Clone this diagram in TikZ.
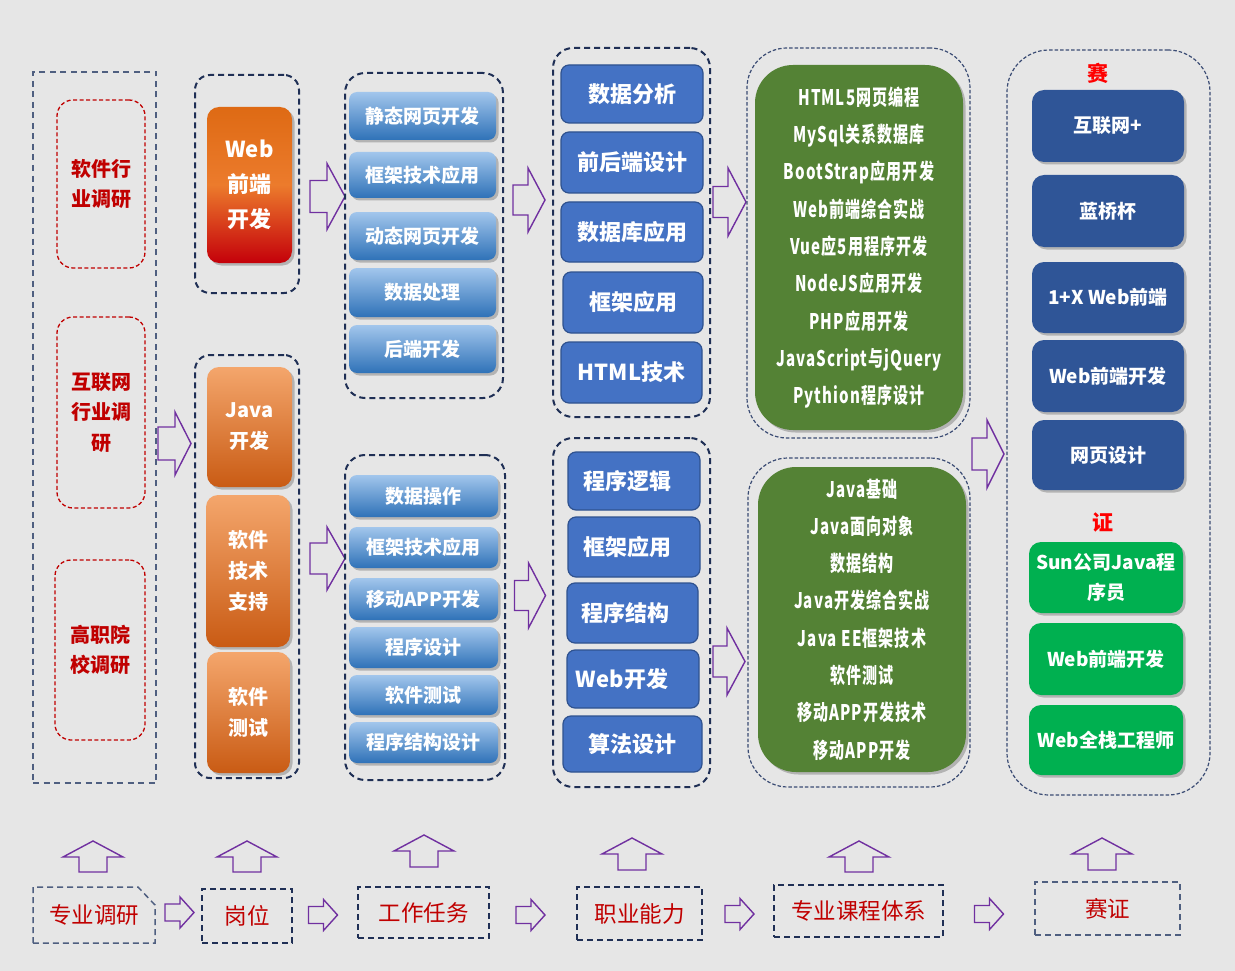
\documentclass[tikz,border=0pt]{standalone}
\usepackage{fontspec}
\setmainfont{Noto Sans CJK SC}
\newfontfamily\condfont[FakeStretch=0.7,LetterSpace=5]{Noto Sans CJK SC}
\usetikzlibrary{shadows,calc}
\definecolor{bgc}{HTML}{E6E6E6}
\definecolor{slate}{HTML}{4F5F80}
\definecolor{slate2}{HTML}{3B4C74}
\definecolor{navy}{HTML}{1F2F55}
\definecolor{redd}{HTML}{C00000}
\definecolor{brightred}{HTML}{FF0000}
\definecolor{apurple}{HTML}{7030A0}
\definecolor{webtop}{HTML}{DE6A14}
\definecolor{webmid}{HTML}{EC7B2C}
\definecolor{webbot}{HTML}{C4000A}
\definecolor{javatop}{HTML}{F4A66C}
\definecolor{javabot}{HTML}{C95B14}
\definecolor{lbtop}{HTML}{A2C6EC}
\definecolor{lbbot}{HTML}{2F72B8}
\definecolor{abil}{HTML}{4472C4}
\definecolor{abilb}{HTML}{2F528F}
\definecolor{course}{HTML}{548235}
\definecolor{comp}{HTML}{2F5597}
\definecolor{cert}{HTML}{00B050}
\begin{document}
\begin{tikzpicture}[x=1pt,y=-1pt,
  every node/.style={inner sep=0pt,outer sep=0pt},
  shad/.style={drop shadow={shadow xshift=2.5pt,shadow yshift=-2.5pt,fill=black,opacity=0.22}},
  lcolbox/.style={draw=slate,line width=1.3pt,dash pattern=on 6pt off 4.5pt},
  redbox/.style={draw=redd,line width=1.3pt,dash pattern=on 4pt off 2.5pt,rounded corners=16pt,
    text=redd,font=\fontsize{20}{30.5}\selectfont\bfseries,align=center},
  navydash/.style={draw=navy,line width=2pt,dash pattern=on 6pt off 4pt,rounded corners=#1},
  navydash/.default=18pt,
  thindash/.style={draw=slate2,line width=1.2pt,dash pattern=on 3.5pt off 2pt,rounded corners=#1},
  thindash/.default=40pt,
  webbox/.style={rounded corners=12pt,top color=webtop,bottom color=webbot,middle color=webmid,
    text=white,font=\fontsize{22}{35}\selectfont\bfseries,align=center,shad},
  javabox/.style={rounded corners=12pt,top color=javatop,bottom color=javabot,
    text=white,font=\fontsize{20}{31}\selectfont\bfseries,align=center,shad},
  taskbox/.style={rounded corners=8pt,top color=lbtop,bottom color=lbbot,
    text=white,font=\fontsize{19}{22}\selectfont\bfseries,shad},
  abilbox/.style={rounded corners=8pt,fill=abil,draw=abilb,line width=1.2pt,
    text=white,font=\fontsize{22}{26}\selectfont\bfseries},
  coursebox/.style={rounded corners=38pt,fill=course,text=white,align=center,
    font=\condfont\fontsize{21.5}{37.3}\selectfont\bfseries,shad},
  compbox/.style={rounded corners=12pt,fill=comp,text=white,align=center,
    font=\fontsize{19}{30}\selectfont\bfseries,shad},
  certbox/.style={rounded corners=12pt,fill=cert,text=white,align=center,
    font=\fontsize{19}{30}\selectfont\bfseries,shad},
  arrowline/.style={draw=apurple,line width=1.4pt,line join=miter},
  pics/rarr/.style args={#1/#2/#3/#4}{code={
    \draw[arrowline] ({-#1/2},{-#3/2}) -- ({#1/2-#4},{-#3/2}) -- ({#1/2-#4},{-#2/2})
      -- ({#1/2},0) -- ({#1/2-#4},{#2/2}) -- ({#1/2-#4},{#3/2}) -- ({-#1/2},{#3/2}) -- cycle;}},
  pics/uarr/.style args={#1/#2/#3/#4}{code={
    \draw[arrowline] ({-#3/2},{#1/2}) -- ({-#3/2},{-#1/2+#4}) -- ({-#2/2},{-#1/2+#4})
      -- (0,{-#1/2}) -- ({#2/2},{-#1/2+#4}) -- ({#3/2},{-#1/2+#4}) -- ({#3/2},{#1/2}) -- cycle;}},
  labeltext/.style={text=redd,font=\fontsize{22.5}{26}\selectfont},
  bottomnavy/.style={draw=navy,line width=2pt,dash pattern=on 6pt off 4pt},
  bottomslate/.style={draw=slate,line width=1.5pt,dash pattern=on 6pt off 4pt}
]
\fill[bgc] (0,0) rectangle (1235,971);
\useasboundingbox (0,0) rectangle (1235,971);

% ---------- column 1: surveys
\node[lcolbox,minimum width=123pt,minimum height=711pt] (survey) at (94.5,427.5) {};
\node[redbox,minimum width=88pt,minimum height=168pt] (s1) at (101,184) {软件行\\业调研};
\node[redbox,minimum width=88pt,minimum height=191pt] (s2) at (101,412.5) {互联网\\行业调\\研};
\node[redbox,minimum width=90pt,minimum height=180pt] (s3) at (100,650) {高职院\\校调研};

\pic (a1) at (174.5,443.5) {rarr=33/63/33/16};

% ---------- column 2: posts
\node[navydash=15pt,minimum width=104pt,minimum height=218pt] (g1) at (247,184) {};
\node[webbox,minimum width=85pt,minimum height=156pt] (web) at (249.5,185) {Web\\前端\\开发};
\node[navydash=15pt,minimum width=104pt,minimum height=423pt] (g2) at (247,566.5) {};
\node[javabox,minimum width=85pt,minimum height=120pt] (java) at (249.5,427) {Java\\开发};
\node[javabox,minimum width=84pt,minimum height=152pt] (tech) at (248,571) {软件\\技术\\支持};
\node[javabox,minimum width=83pt,minimum height=121pt] (test) at (248.5,712.5) {软件\\测试};

\pic (a2t) at (327.5,196.5) {rarr=35/66/32/18};
\pic (a2b) at (327.5,558.5) {rarr=35/63/31/18};

% ---------- column 3: tasks
\node[navydash=20pt,minimum width=158pt,minimum height=325pt] (t1) at (424,235.5) {};
\node[taskbox,minimum width=147pt,minimum height=48pt] (t11) at (422.5,116) {静态网页开发};
\node[taskbox,minimum width=147pt,minimum height=46pt] (t12) at (422.5,175) {框架技术应用};
\node[taskbox,minimum width=147pt,minimum height=48pt] (t13) at (422.5,236) {动态网页开发};
\node[taskbox,minimum width=147pt,minimum height=49pt] (t14) at (422.5,292.5) {数据处理};
\node[taskbox,minimum width=147pt,minimum height=48pt] (t15) at (422.5,349) {后端开发};

\node[navydash=20pt,minimum width=160pt,minimum height=325pt] (t2) at (425,617.5) {};
\node[taskbox,minimum width=149pt,minimum height=42pt] (t21) at (423.5,496) {数据操作};
\node[taskbox,minimum width=149pt,minimum height=41pt] (t22) at (423.5,547.5) {框架技术应用};
\node[taskbox,minimum width=149pt,minimum height=42pt] (t23) at (423.5,599) {移动APP开发};
\node[taskbox,minimum width=149pt,minimum height=41pt] (t24) at (423.5,647.5) {程序设计};
\node[taskbox,minimum width=149pt,minimum height=40pt] (t25) at (423.5,695) {软件测试};
\node[taskbox,minimum width=149pt,minimum height=41pt] (t26) at (423.5,742.5) {程序结构设计};

\pic (a3t) at (529,200) {rarr=32/64/30/17};
\pic (a3b) at (530,595.5) {rarr=31/65/30/17};

% ---------- column 4: abilities
\node[navydash=20pt,minimum width=157pt,minimum height=369pt] (n1) at (631.5,232.5) {};
\node[abilbox,minimum width=142pt,minimum height=58pt] (n11) at (632,94) {数据分析};
\node[abilbox,minimum width=142pt,minimum height=61pt] (n12) at (632,162.5) {前后端设计};
\node[abilbox,minimum width=142pt,minimum height=60pt] (n13) at (632,232) {数据库应用};
\node[abilbox,minimum width=140pt,minimum height=61pt] (n14) at (633,302.5) {框架应用};
\node[abilbox,minimum width=141pt,minimum height=61pt] (n15) at (631.5,372.5) {HTML技术};

\node[navydash=20pt,minimum width=157pt,minimum height=349pt] (n2) at (631.5,612.5) {};
\node[abilbox,minimum width=132pt,minimum height=58pt] (n21) at (634,481) {\hspace*{-14pt}程序逻辑};
\node[abilbox,minimum width=132pt,minimum height=60pt] (n22) at (634,547) {\hspace*{-14pt}框架应用};
\node[abilbox,minimum width=131pt,minimum height=60pt] (n23) at (632.5,613) {\hspace*{-14pt}程序结构};
\node[abilbox,minimum width=132pt,minimum height=58pt] (n24) at (633,679) {\hspace*{-22pt}Web开发};
\node[abilbox,minimum width=139pt,minimum height=56pt] (n25) at (632.5,744) {算法设计};

\pic (a4t) at (729.5,202) {rarr=33/68/31/18};
\pic (a4b) at (729,661.5) {rarr=32/67/31/18};

% ---------- column 5: courses
\node[thindash=40pt,minimum width=223pt,minimum height=390pt] (c1) at (858.5,243) {};
\node[coursebox,minimum width=208pt,minimum height=365pt] (c11) at (859,247.5)
  {HTML5网页编程\\MySql关系数据库\\BootStrap应用开发\\Web前端综合实战\\Vue应5用程序开发\\NodeJS应用开发\\PHP应用开发\\JavaScript与jQuery\\Pythion程序设计};
\node[thindash=40pt,minimum width=222pt,minimum height=329pt] (c2) at (859,622.5) {};
\node[coursebox,minimum width=208pt,minimum height=305pt] (c21) at (862,619.5)
  {Java基础\\Java面向对象\\数据结构\\Java开发综合实战\\Java EE框架技术\\软件测试\\移动APP开发技术\\移动APP开发};

\pic (a5) at (988,454) {rarr=32/68/32/17};

% ---------- column 6: competitions & certificates
\node[thindash=42pt,minimum width=203pt,minimum height=745pt] (cc) at (1108.5,422.5) {};
\node[text=brightred,font=\fontsize{21}{24}\selectfont\bfseries] (sai) at (1098,73) {赛};
\node[compbox,minimum width=152pt,minimum height=72pt] (m1) at (1108,126) {互联网+};
\node[compbox,minimum width=152pt,minimum height=72pt] (m2) at (1108,211) {蓝桥杯};
\node[compbox,minimum width=152pt,minimum height=71pt] (m3) at (1108,297.5) {1+X Web前端};
\node[compbox,minimum width=152pt,minimum height=72pt] (m4) at (1108,376) {Web前端开发};
\node[compbox,minimum width=152pt,minimum height=70pt] (m5) at (1108,455) {网页设计};
\node[text=brightred,font=\fontsize{21}{24}\selectfont\bfseries] (zheng) at (1103,522) {证};
\node[certbox,minimum width=154pt,minimum height=71pt] (z1) at (1106,577.5) {Sun公司Java程\\序员};
\node[certbox,minimum width=154pt,minimum height=72pt] (z2) at (1106,659) {Web前端开发};
\node[certbox,minimum width=154pt,minimum height=70pt] (z3) at (1106,740) {Web全栈工程师};

% ---------- bottom row
\pic (u1) at (93,856.5) {uarr=31/60/28/16};
\pic (u2) at (247,856.5) {uarr=31/60/28/16};
\pic (u3) at (424,851) {uarr=32/60/28/16};
\pic (u4) at (632,854) {uarr=32/60/28/16};
\pic (u5) at (859,856.5) {uarr=31/60/28/16};
\pic (u6) at (1102,854) {uarr=32/60/28/16};

\node[labeltext,minimum width=122pt,minimum height=56pt] (b1) at (94,915) {专业调研};
\draw[bottomslate] (b1.south west) -- (b1.north west) -- ($(b1.north east)+(-17,0)$)
  -- ($(b1.north east)+(0,18)$) -- (b1.south east) -- cycle;
\pic (r1) at (179.5,912.5) {rarr=29/31/17/14};
\node[labeltext,bottomnavy,minimum width=90pt,minimum height=54pt] (b2) at (247,916) {岗位};
\pic (r2) at (323,915) {rarr=29/31/17/14};
\node[labeltext,bottomnavy,minimum width=131pt,minimum height=51pt] (b3) at (423.5,912.5) {工作任务};
\pic (r3) at (530.5,915) {rarr=29/31/17/14};
\node[labeltext,bottomnavy,minimum width=125pt,minimum height=53pt] (b4) at (639.5,913.5) {职业能力};
\pic (r4) at (739.5,914) {rarr=29/31/17/14};
\node[labeltext,bottomnavy,minimum width=169pt,minimum height=52pt] (b5) at (858.5,911) {专业课程体系};
\pic (r5) at (989,914) {rarr=29/31/17/14};
\node[labeltext,bottomslate,minimum width=145pt,minimum height=53pt] (b6) at (1107.5,908.5) {赛证};
\end{tikzpicture}
\end{document}
